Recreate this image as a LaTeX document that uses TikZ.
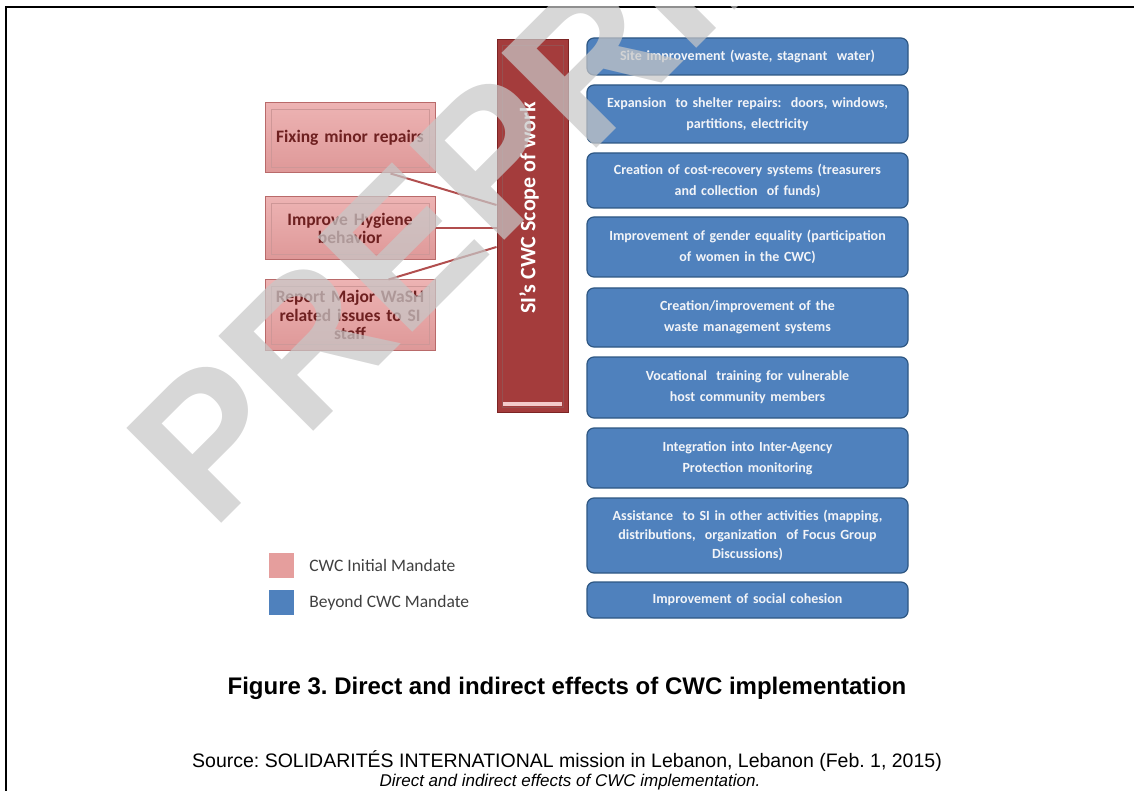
\documentclass[tikz,border=0pt]{standalone}
\usepackage{fontspec}
\setmainfont{Carlito}
\newfontfamily\arialFont{Liberation Sans}
\usetikzlibrary{positioning}
\frenchspacing
\definecolor{pinkTop}{HTML}{EDB3B3}
\definecolor{pinkBottom}{HTML}{DE9898}
\definecolor{pinkEdge}{HTML}{B96A6A}
\definecolor{pinkText}{HTML}{6E2020}
\definecolor{barFill}{HTML}{A43C3C}
\definecolor{barEdge}{HTML}{7C2424}
\definecolor{blueFill}{HTML}{4F81BD}
\definecolor{blueEdge}{HTML}{2E5783}
\definecolor{blueText}{HTML}{F2F4F8}
\definecolor{legPink}{HTML}{E59E9D}
\definecolor{legText}{HTML}{404040}
\definecolor{lineRed}{HTML}{B14E4E}
\tikzset{
    initBox/.style={draw=pinkEdge, line width=1pt, top color=pinkTop, bottom color=pinkBottom,
        minimum width=170pt, text width=160pt, align=center, text=pinkText, inner sep=0pt,
        font=\bfseries\fontsize{17.5}{18.5}\selectfont,
        path picture={\draw[pinkEdge!70, line width=0.8pt]
            ([shift={(6pt,6pt)}]path picture bounding box.south west) rectangle
            ([shift={(-6pt,-6pt)}]path picture bounding box.north east);}},
    scopeBar/.style={draw=barEdge, line width=1pt, fill=barFill, minimum width=71pt, minimum height=372pt,
        path picture={\draw[barEdge!80, line width=0.8pt]
            ([shift={(5pt,5pt)}]path picture bounding box.south west) rectangle
            ([shift={(-5pt,-5pt)}]path picture bounding box.north east);
            \fill[pinkTop!70] ([shift={(6pt,6pt)}]path picture bounding box.south west) rectangle
            ([shift={(-6pt,10pt)}]path picture bounding box.south east);}},
    scopeText/.style={text=white, font=\bfseries\fontsize{22}{22}\selectfont, inner sep=0pt},
    beyondBox/.style={draw=blueEdge, line width=1.2pt, fill=blueFill, rounded corners=7pt,
        minimum width=321pt, text width=312pt, align=center, text=blueText, inner sep=0pt,
        font=\bfseries\fontsize{14}{21}\selectfont},
    mandateLine/.style={lineRed, line width=2pt},
    legendSwatch/.style={minimum width=25pt, minimum height=25pt, inner sep=0pt},
    legendText/.style={text=legText, font=\fontsize{17.5}{20}\selectfont, inner sep=0pt, anchor=west},
    watermark/.style={text=black!22, opacity=0.72, font=\arialFont\bfseries\fontsize{195}{195}\selectfont, inner sep=0pt}
}
\begin{document}
\begin{tikzpicture}[x=1pt, y=-1pt]
    \useasboundingbox (0,0) rectangle (1134,791);
    \draw[line width=2.5pt] (6,791) -- (6,7) -- (1134,7);
    % initial mandate
    \node[initBox, minimum height=70pt] (fix) at (350,138) {Fixing minor repairs};
    \node[initBox, minimum height=63pt] (hyg) at (350,228.5) {Improve Hygiene\\behavior};
    \node[initBox, minimum height=70pt] (rep) at (350,315) {Report Major WaSH\\related issues to SI\\staff};
    \node[scopeBar] (scope) at (532.5,226) {};
    \node[scopeText, rotate=90] (scopeLabel) at (529,208) {SI's CWC Scope of work};
    \draw[mandateLine] ([xshift=-45pt]fix.south east) -- ([yshift=21pt]scope.west);
    \draw[mandateLine] (hyg.east) -- (hyg.east -| scope.west);
    \draw[mandateLine] ([xshift=-47pt]rep.north east) -- ([yshift=-21pt]scope.west);
    % beyond mandate
    \node[beyondBox, minimum height=37pt] (site) at (747.5,56.5) {Site improvement (waste, stagnant\ \ water)};
    \node[beyondBox, minimum height=58pt] (shelter) at (747.5,114) {Expansion\ \ to shelter repairs:\ \ doors, windows,\\partitions, electricity};
    \node[beyondBox, minimum height=55pt] (cost) at (747.5,180.5) {Creation of cost-recovery systems (treasurers\\and collection\ \ of funds)};
    \node[beyondBox, minimum height=60pt] (gender) at (747.5,247) {Improvement of gender equality (participation\\of women in the CWC)};
    \node[beyondBox, minimum height=59pt] (waste) at (747.5,317.5) {Creation/improvement of the\\waste management systems};
    \node[beyondBox, minimum height=61pt] (voc) at (747.5,387.5) {Vocational\ \ training for vulnerable\\host community members};
    \node[beyondBox, minimum height=60pt] (agency) at (747.5,458) {Integration into Inter-Agency\\Protection monitoring};
    \node[beyondBox, minimum height=75pt, font=\bfseries\fontsize{14}{19}\selectfont] (assist) at (747.5,535.5) {Assistance\ \ to SI in other activities (mapping,\\distributions,\ \ organization\ \ of Focus Group\\Discussions)};
    \node[beyondBox, minimum height=36pt] (social) at (747.5,600) {Improvement of social cohesion};
    % legend
    \node[legendSwatch, fill=legPink] (legInit) at (281.5,565) {};
    \node[legendText, right=15pt of legInit] (legInitText) {CWC Initial Mandate};
    \node[legendSwatch, fill=blueFill] (legBeyond) at (281.5,602.5) {};
    \node[legendText, right=15pt of legBeyond] (legBeyondText) {Beyond CWC Mandate};
    % caption
    \node[font=\arialFont\bfseries\fontsize{24}{28}\selectfont, inner sep=0pt] (caption) at (567,688)
        {Figure 3. Direct and indirect effects of CWC implementation};
    \node[font=\arialFont\fontsize{19.5}{20}\selectfont, inner sep=0pt] (source) at (567,761)
        {Source: SOLIDARITÉS INTERNATIONAL mission in Lebanon, Lebanon (Feb. 1, 2015)};
    \node[font=\arialFont\itshape\fontsize{17}{20}\selectfont, inner sep=0pt] (sourceTitle) at (570,782)
        {Direct and indirect effects of CWC implementation.};
    \begin{scope}
        \clip (6,7) rectangle (1134,791);
        \node[watermark, rotate=45, anchor=base west] (stamp) at (212,533) {PREPRINT};
    \end{scope}
\end{tikzpicture}
\end{document}
